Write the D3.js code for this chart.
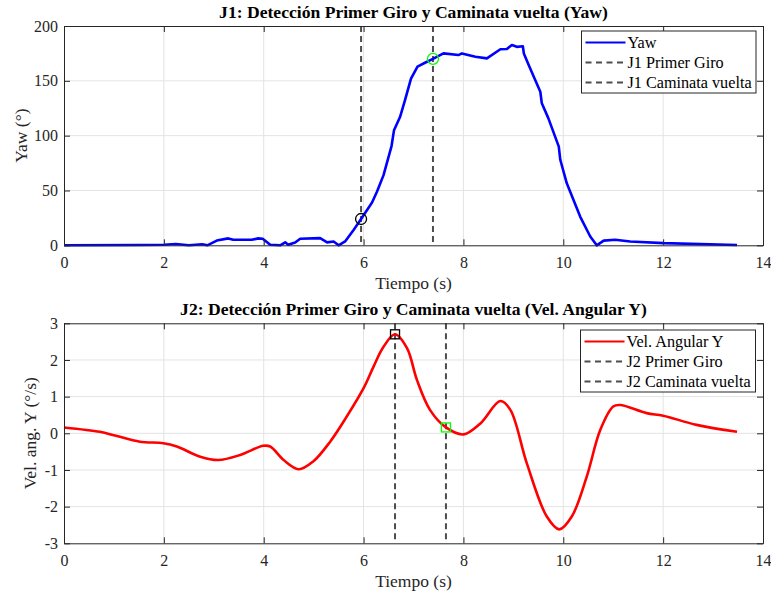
<!DOCTYPE html>
<html>
<head>
<meta charset="utf-8">
<script src="https://cdn.jsdelivr.net/npm/d3@7"></script>
<style>
  html, body { margin: 0; padding: 0; background: #ffffff; }
  svg { display: block; }
  text { font-family: "Liberation Serif", "Times New Roman", serif; fill: #262626; }
</style>
</head>
<body>
<svg id="chart" width="771" height="594"></svg>
<script>
// Yaw angle (degrees) over time (s)
const yawTime = [0, 1.46, 2.0, 2.24, 2.5, 2.77, 2.87, 3.06, 3.29, 3.39, 3.76, 3.89, 3.98, 4.13, 4.33, 4.43, 4.49, 4.63, 4.73, 5.13, 5.27, 5.4, 5.5, 5.63, 5.8, 5.95, 6.17, 6.27, 6.4, 6.56, 6.61, 6.73, 6.83, 6.95, 7.08, 7.23, 7.39, 7.6, 7.9, 7.97, 8.24, 8.47, 8.74, 8.87, 8.97, 9.07, 9.19, 9.21, 9.32, 9.54, 9.57, 9.7, 9.91, 9.94, 10.07, 10.34, 10.54, 10.67, 10.81, 11.04, 11.34, 12.01, 13.48];
const yawDeg  = [0, 0.3, 0.5, 1.2, 0, 1.0, 0, 4.3, 6.3, 5, 5, 6.3, 6, 0.5, 0, 2.7, 0.5, 2.5, 6, 6.5, 2.7, 3.5, 0, 3.5, 14, 24, 39, 49, 64, 90.5, 105, 117, 132.5, 152, 163, 166.5, 170, 175, 173.5, 175, 172, 170.5, 178.8, 179, 182.7, 181, 181.5, 175, 163, 140, 129.5, 116, 90, 78, 56.5, 26, 8, 0, 4.3, 5, 3.5, 2, 0.3];

// Angular velocity Y (°/s) over time (s)
const velTime = [0, 0.72, 1.02, 1.52, 1.99, 2.26, 2.73, 3.09, 3.53, 3.99, 4.13, 4.4, 4.7, 4.99, 5.33, 5.66, 6.0, 6.2, 6.4, 6.63, 6.87, 7.07, 7.33, 7.65, 8.0, 8.34, 8.74, 8.94, 9.27, 9.67, 9.92, 10.17, 10.47, 10.74, 11.0, 11.14, 11.67, 12.0, 12.67, 13.48];
const velDps  = [0.16, 0.04, -0.06, -0.23, -0.27, -0.36, -0.64, -0.73, -0.59, -0.34, -0.36, -0.73, -0.98, -0.77, -0.23, 0.45, 1.23, 1.82, 2.36, 2.7, 2.32, 1.45, 0.64, 0.16, -0.03, 0.27, 0.88, 0.64, -0.82, -2.27, -2.62, -2.27, -1.18, 0.09, 0.73, 0.77, 0.55, 0.48, 0.23, 0.04];

// Detection events: [time, value]
const j1PrimerGiro = [5.95, 24];
const j1Caminata   = [7.39, 170];
const j2PrimerGiro = [6.63, 2.7];
const j2Caminata   = [7.65, 0.16];

const xTicks = [0, 2, 4, 6, 8, 10, 12, 14];
const yawTicks = [0, 50, 100, 150, 200];
const velTicks = [-3, -2, -1, 0, 1, 2, 3];

const titles = [
  "J1: Detección Primer Giro y Caminata vuelta (Yaw)",
  "J2: Detección Primer Giro y Caminata vuelta (Vel. Angular Y)"
];
const legend1 = ["Yaw", "J1 Primer Giro", "J1 Caminata vuelta"];
const legend2 = ["Vel. Angular Y", "J2 Primer Giro", "J2 Caminata vuelta"];

const svg = d3.select("#chart");
const axisColor = "#262626";
const gridColor = "#e3e3e3";
const dashColor = "#4d4d4d";
const serif = "'Liberation Serif', 'Times New Roman', serif";

function panel(opts) {
  const { top, bottom, left, right, yDomain, yTicks, t, v, color, ev1, ev2, marker, title, yLabel, legend, legendBox } = opts;
  const x = d3.scaleLinear().domain([0, 14]).range([left, right]);
  const y = d3.scaleLinear().domain(yDomain).range([bottom, top]);
  const g = svg.append("g");

  // grid
  g.append("g").selectAll("line").data(xTicks.slice(1, -1)).join("line")
    .attr("x1", d => x(d)).attr("x2", d => x(d)).attr("y1", top).attr("y2", bottom)
    .attr("stroke", gridColor).attr("stroke-width", 1);
  g.append("g").selectAll("line").data(yTicks.slice(1, -1)).join("line")
    .attr("y1", d => y(d)).attr("y2", d => y(d)).attr("x1", left).attr("x2", right)
    .attr("stroke", gridColor).attr("stroke-width", 1);

  // event lines
  [ev1, ev2].forEach(e => {
    g.append("line")
      .attr("x1", x(e[0])).attr("x2", x(e[0])).attr("y1", top).attr("y2", bottom)
      .attr("stroke", dashColor).attr("stroke-width", 2).attr("stroke-dasharray", "6,4");
  });

  // signal
  const line = d3.line().x((d, i) => x(t[i])).y(d => y(d));
  if (opts.smooth) line.curve(d3.curveCatmullRom.alpha(0.5));
  g.append("path").datum(v).attr("d", line)
    .attr("fill", "none").attr("stroke", color).attr("stroke-width", 2.6)
    .attr("stroke-linejoin", "round");

  // event markers
  const mk = [[ev1, "#000000"], [ev2, "#00ff00"]];
  mk.forEach(([e, c]) => {
    if (marker === "circle") {
      g.append("circle").attr("cx", x(e[0])).attr("cy", y(e[1])).attr("r", 5.5)
        .attr("fill", "none").attr("stroke", c).attr("stroke-width", 1.3);
    } else {
      g.append("rect").attr("x", x(e[0]) - 4.5).attr("y", y(e[1]) - 4.5)
        .attr("width", 9).attr("height", 9)
        .attr("fill", "none").attr("stroke", c).attr("stroke-width", 1.3);
    }
  });

  // axes (box with inward ticks on all sides)
  const tl = 6;
  const fmt = d => String(d);
  const xb = d3.axisBottom(x).tickValues(xTicks).tickSizeInner(-tl).tickSizeOuter(0).tickPadding(11).tickFormat(fmt);
  const xt = d3.axisTop(x).tickValues(xTicks).tickSizeInner(-tl).tickSizeOuter(0).tickFormat("");
  const yl = d3.axisLeft(y).tickValues(yTicks).tickSizeInner(-tl).tickSizeOuter(0).tickPadding(6).tickFormat(fmt);
  const yr = d3.axisRight(y).tickValues(yTicks).tickSizeInner(-tl).tickSizeOuter(0).tickFormat("");
  const styleAxis = sel => {
    sel.attr("font-family", serif).attr("font-size", 16);
    sel.selectAll("path").attr("stroke", axisColor).attr("stroke-width", 1);
    sel.selectAll("line").attr("stroke", axisColor).attr("stroke-width", 1);
    sel.selectAll("text").attr("fill", axisColor);
  };
  g.append("g").attr("transform", `translate(0,${bottom})`).call(xb).call(styleAxis);
  g.append("g").attr("transform", `translate(0,${top})`).call(xt).call(styleAxis);
  g.append("g").attr("transform", `translate(${left},0)`).call(yl).call(styleAxis);
  g.append("g").attr("transform", `translate(${right},0)`).call(yr).call(styleAxis);

  // title and labels
  g.append("text").attr("x", (left + right) / 2).attr("y", top - 8)
    .attr("text-anchor", "middle").style("font-weight", "bold").style("font-size", "17.6px")
    .style("fill", "#000").text(title);
  g.append("text").attr("x", (left + right) / 2).attr("y", bottom + 44)
    .attr("text-anchor", "middle").style("font-size", "17.5px").text("Tiempo (s)");
  g.append("text").attr("transform", `translate(${opts.yLabelX},${(top + bottom) / 2}) rotate(-90)`)
    .attr("text-anchor", "middle").style("font-size", "17.5px").text(yLabel);

  // legend
  const lb = legendBox;
  const lg = g.append("g");
  lg.append("rect").attr("x", lb.x).attr("y", lb.y).attr("width", lb.w).attr("height", lb.h)
    .attr("fill", "#ffffff").attr("stroke", "#262626").attr("stroke-width", 1);
  legend.forEach((name, i) => {
    const cy = lb.y + 11.5 + i * 20;
    lg.append("line").attr("x1", lb.x + 4).attr("x2", lb.x + 44).attr("y1", cy).attr("y2", cy)
      .attr("stroke", i === 0 ? color : dashColor).attr("stroke-width", 2)
      .attr("stroke-dasharray", i === 0 ? null : "6,4.5");
    lg.append("text").attr("x", lb.x + 46).attr("y", cy + 5.5).style("font-size", "16.2px")
      .style("fill", "#000").text(name);
  });
}

panel({
  top: 26, bottom: 245.3, left: 64, right: 763,
  yDomain: [0, 200], yTicks: yawTicks, t: yawTime, v: yawDeg, color: "#0000ff",
  ev1: j1PrimerGiro, ev2: j1Caminata, marker: "circle", smooth: false,
  title: titles[0], yLabel: "Yaw (°)", yLabelX: 27, legend: legend1,
  legendBox: { x: 581.5, y: 31, w: 174.5, h: 62 }
});

panel({
  top: 323.3, bottom: 543.3, left: 64, right: 763,
  yDomain: [-3, 3], yTicks: velTicks, t: velTime, v: velDps, color: "#ff0000",
  ev1: j2PrimerGiro, ev2: j2Caminata, marker: "square", smooth: true,
  title: titles[1], yLabel: "Vel. ang. Y (°/s)", yLabelX: 36, legend: legend2,
  legendBox: { x: 580.5, y: 330, w: 175, h: 62 }
});
</script>
</body>
</html>
